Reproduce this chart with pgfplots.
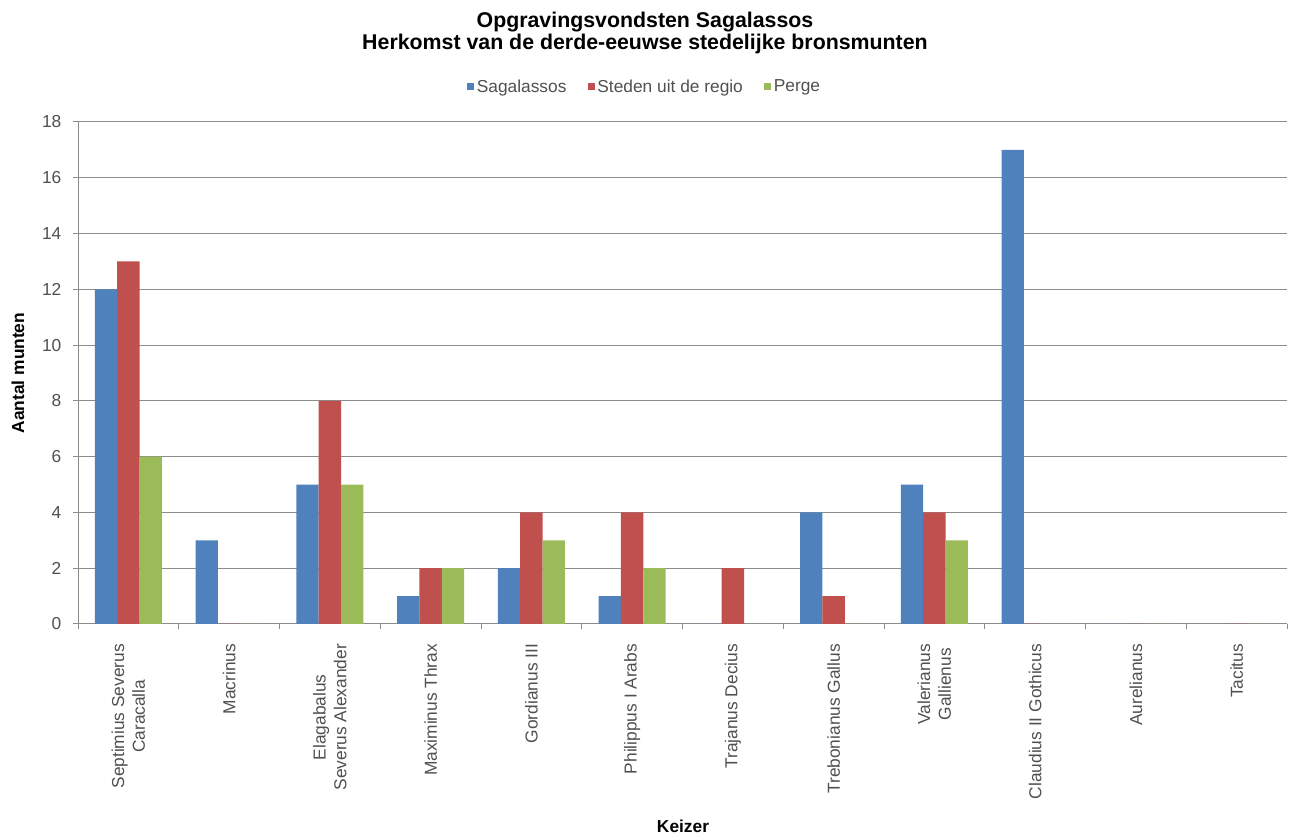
\documentclass[border=0pt]{standalone}
\usepackage{pgfplots}
\pgfplotsset{compat=1.18}
\usepackage{fontspec}
\setmainfont{Liberation Sans}
\definecolor{cBlue}{HTML}{4F81BD}
\definecolor{cRed}{HTML}{C0504D}
\definecolor{cGreen}{HTML}{9BBB59}
\definecolor{cText}{HTML}{505050}
\definecolor{cGrid}{HTML}{8C8C8C}
\begin{document}
\begin{tikzpicture}
\path[use as bounding box] (0,0) rectangle (967.5pt,627.75pt);
\begin{axis}[
  at={(58.5pt,159.75pt)}, anchor=south west,
  scale only axis, width=906.75pt, height=376.5pt,
  ybar=0pt, bar width=16.75pt,
  xmin=-0.5, xmax=11.5, ymin=0, ymax=18,
  ytick={0,2,...,18},
  xtick={0,...,11},
  minor xtick={-0.5,0.5,...,11.5},
  xticklabels={{Septimius Severus\\Caracalla},Macrinus,{Elagabalus\\Severus Alexander},Maximinus Thrax,Gordianus III,Philippus I Arabs,Trajanus Decius,Trebonianus Gallus,{Valerianus\\Gallienus},Claudius II Gothicus,Aurelianus,Tacitus},
  axis x line*=bottom, axis y line*=left,
  axis line style={cGrid, line width=0.75pt},
  tick align=outside,
  major tick length=4pt, minor tick length=4pt,
  major x tick style={draw=none},
  minor x tick style={cGrid, line width=0.75pt},
  major y tick style={cGrid, line width=0.75pt},
  ymajorgrids, grid style={cGrid, line width=0.75pt},
  /pgf/number format/assume math mode=true,
  tick label style={font=\fontsize{13}{15.5}\selectfont, text=cText},
  yticklabel style={xshift=-5pt},
  xticklabel style={rotate=90, anchor=east, align=center, xshift=-7.5pt},
  legend style={at={(0.469,1.07)}, anchor=center, draw=none, legend columns=3,
    font=\fontsize{13}{15.5}\selectfont, text=cText,
    /tikz/every even column/.append style={column sep=14pt}},
  legend image code/.code={\fill[#1] (-2pt,-2.6pt) rectangle (3.2pt,2.6pt);},
]
\addplot[fill=cBlue, draw=none] coordinates {(0,12) (1,3) (2,5) (3,1) (4,2) (5,1) (6,0) (7,4) (8,5) (9,17) (10,0) (11,0)};
\addplot[fill=cRed, draw=none] coordinates {(0,13) (1,0) (2,8) (3,2) (4,4) (5,4) (6,2) (7,1) (8,4) (9,0) (10,0) (11,0)};
\addplot[fill=cGreen, draw=none] coordinates {(0,6) (1,0) (2,5) (3,2) (4,3) (5,2) (6,0) (7,0) (8,3) (9,0) (10,0) (11,0)};
\legend{Sagalassos, Steden uit de regio, Perge}
\end{axis}
\node[anchor=base, font=\fontsize{16}{19}\selectfont\bfseries] at (483.75pt,606.75pt) {Opgravingsvondsten Sagalassos};
\node[anchor=base, font=\fontsize{16}{19}\selectfont\bfseries] at (483.75pt,590.25pt) {Herkomst van de derde-eeuwse stedelijke bronsmunten};
\node[rotate=90, font=\fontsize{13}{15.5}\selectfont\bfseries] at (13.5pt,348pt) {Aantal munten};
\node[font=\fontsize{13}{15.5}\selectfont\bfseries] at (512.25pt,8.25pt) {Keizer};
\end{tikzpicture}
\end{document}
